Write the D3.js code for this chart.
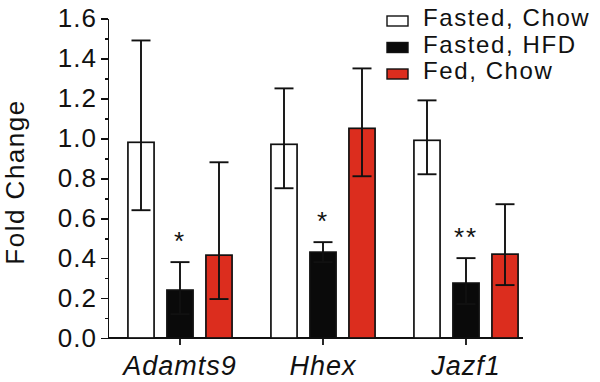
<html>
  <head>
    <meta charset="utf-8" />
    <script src="https://d3js.org/d3.v7.min.js"></script>
  </head>
  <style>
    body { margin: 0; background: #fff; }
    svg { font-family: "Liberation Sans", Arial, sans-serif; }
    .axis path, .axis line { stroke: #111; stroke-width: 1.7px; shape-rendering: crispEdges; }
    .axis text { font-size: 26px; fill: #111; letter-spacing: 1px; }
  </style>
  <body>
    <svg width="600" height="382"></svg>
    <script>
      // data
      const genes = ["Adamts9", "Hhex", "Jazf1"];
      const series = ["Fasted, Chow", "Fasted, HFD", "Fed, Chow"];
      const colors = ["#ffffff", "#0a0a0a", "#dc2d1e"];

      const fastedChow = [0.98, 0.97, 0.99];
      const fastedChowHi = [1.49, 1.25, 1.19];
      const fastedChowLo = [0.64, 0.75, 0.82];

      const fastedHFD = [0.24, 0.43, 0.275];
      const fastedHFDHi = [0.38, 0.48, 0.4];
      const fastedHFDLo = [0.12, 0.38, 0.17];

      const fedChow = [0.415, 1.05, 0.42];
      const fedChowHi = [0.88, 1.35, 0.67];
      const fedChowLo = [0.195, 0.81, 0.265];

      const stars = ["*", "*", "**"];
      const yTicks = [0, 0.2, 0.4, 0.6, 0.8, 1.0, 1.2, 1.4, 1.6];

      const values = [fastedChow, fastedHFD, fedChow];
      const highs = [fastedChowHi, fastedHFDHi, fedChowHi];
      const lows = [fastedChowLo, fastedHFDLo, fedChowLo];

      const rows = [];
      genes.forEach((g, gi) => {
        series.forEach((s, si) => {
          rows.push({ gene: g, s: s, si: si, v: values[si][gi], hi: highs[si][gi], lo: lows[si][gi] });
        });
      });

      const svg = d3.select("svg");

      const x0 = d3.scaleBand().domain(genes).range([108.5, 537.5]);
      const x1 = d3.scaleBand().domain(series).range([-58.5, 58.5]).paddingInner(0.33).paddingOuter(0.165);
      const y = d3.scaleLinear().domain([0, 1.6]).range([338, 18.5]);
      const cx = (d) => x0(d.gene) + x0.bandwidth() / 2;

      // minor ticks
      svg.append("g")
        .attr("class", "axis")
        .attr("transform", "translate(108,0)")
        .call(d3.axisLeft(y).tickValues(d3.range(0, 17).map((i) => i / 10)).tickSize(3).tickFormat(""))
        .select(".domain").remove();

      // y axis
      svg.append("g")
        .attr("class", "axis")
        .attr("transform", "translate(108,0)")
        .call(d3.axisLeft(y).tickValues(yTicks).tickSize(7).tickSizeOuter(0).tickPadding(4).tickFormat(d3.format(".1f")));

      // x axis line + ticks
      svg.append("line")
        .attr("x1", 108).attr("x2", 523)
        .attr("y1", y(0)).attr("y2", y(0))
        .attr("stroke", "#111").attr("stroke-width", 1.8);

      svg.selectAll("line.xtick")
        .data(genes)
        .enter()
        .append("line")
        .attr("class", "xtick")
        .attr("x1", (g) => x0(g) + x0.bandwidth() / 2)
        .attr("x2", (g) => x0(g) + x0.bandwidth() / 2)
        .attr("y1", y(0))
        .attr("y2", y(0) + 7)
        .attr("stroke", "#111").attr("stroke-width", 1.8);

      svg.selectAll("text.gene")
        .data(genes)
        .enter()
        .append("text")
        .attr("class", "gene")
        .attr("x", (g) => x0(g) + x0.bandwidth() / 2)
        .attr("y", 375)
        .attr("text-anchor", "middle")
        .attr("font-size", 27)
        .attr("font-style", "italic")
        .attr("letter-spacing", 1)
        .attr("fill", "#111")
        .text((g) => g);

      // y label
      svg.append("text")
        .attr("transform", "translate(24,182) rotate(-90)")
        .attr("text-anchor", "middle")
        .attr("font-size", 26)
        .attr("letter-spacing", 1.5)
        .attr("fill", "#111")
        .text("Fold Change");

      // bars
      svg.selectAll("rect.bar")
        .data(rows)
        .enter()
        .append("rect")
        .attr("class", "bar")
        .attr("x", (d) => cx(d) + x1(d.s))
        .attr("y", (d) => y(d.v))
        .attr("width", x1.bandwidth())
        .attr("height", (d) => y(0) - y(d.v))
        .attr("fill", (d) => colors[d.si])
        .attr("stroke", "#111")
        .attr("stroke-width", 1.7);

      // error bars
      const eb = svg.selectAll("g.err").data(rows).enter().append("g").attr("class", "err");
      const ecx = (d) => cx(d) + x1(d.s) + x1.bandwidth() / 2;
      eb.append("line")
        .attr("x1", ecx).attr("x2", ecx)
        .attr("y1", (d) => y(d.lo)).attr("y2", (d) => y(d.hi))
        .attr("stroke", "#111").attr("stroke-width", 1.9);
      eb.append("line")
        .attr("x1", (d) => ecx(d) - 9.5).attr("x2", (d) => ecx(d) + 9.5)
        .attr("y1", (d) => y(d.hi)).attr("y2", (d) => y(d.hi))
        .attr("stroke", "#111").attr("stroke-width", 1.9);
      eb.append("line")
        .attr("x1", (d) => ecx(d) - 9.5).attr("x2", (d) => ecx(d) + 9.5)
        .attr("y1", (d) => y(d.lo)).attr("y2", (d) => y(d.lo))
        .attr("stroke", "#111").attr("stroke-width", 1.9);

      // significance stars over the HFD bars
      svg.selectAll("text.star")
        .data(genes)
        .enter()
        .append("text")
        .attr("class", "star")
        .attr("x", (g) => x0(g) + x0.bandwidth() / 2)
        .attr("y", (g, i) => y(fastedHFDHi[i]) - 12)
        .attr("text-anchor", "middle")
        .attr("font-size", 26)
        .attr("letter-spacing", 2)
        .attr("fill", "#111")
        .text((g, i) => stars[i]);

      // legend
      const leg = svg.selectAll("g.leg")
        .data(series)
        .enter()
        .append("g")
        .attr("class", "leg")
        .attr("transform", (s, i) => "translate(387," + (16 + i * 26.5) + ")");
      leg.append("rect")
        .attr("width", 21).attr("height", 10)
        .attr("fill", (s, i) => colors[i])
        .attr("stroke", "#111").attr("stroke-width", 1.4);
      leg.append("text")
        .attr("x", 36).attr("y", 10)
        .attr("font-size", 24)
        .attr("letter-spacing", 1.6)
        .attr("fill", "#111")
        .text((s) => s);
    </script>
  </body>
</html>
